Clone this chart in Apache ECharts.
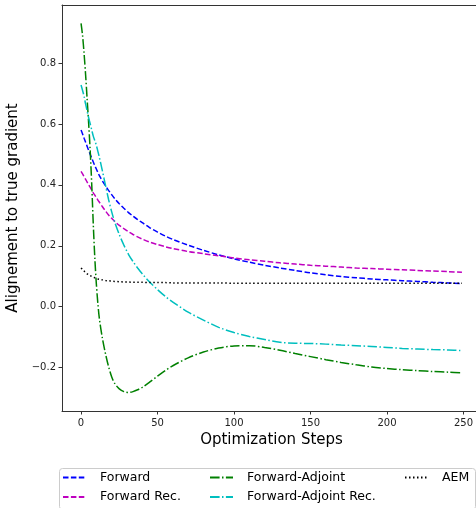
<!DOCTYPE html>
<html>
<head>
<meta charset="utf-8">
<script src="https://cdn.jsdelivr.net/npm/echarts@6/dist/echarts.min.js"></script>
<style>html,body{margin:0;padding:0;background:#fff;}#c{width:476px;height:508px;}</style>
</head>
<body>
<div id="c"></div>
<script>
var steps = [0,1,2,3,4,5,6,7,8,9,10,11,12,14,16,18,20,22,25,28,31,34,37,40,45,50,55,60,70,80,90,100,110,120,130,140,150,160,170,180,190,200,210,220,230,240,249];
var forward = [0.580,0.567,0.553,0.540,0.526,0.513,0.500,0.488,0.475,0.463,0.452,0.441,0.430,0.412,0.397,0.382,0.368,0.355,0.338,0.323,0.309,0.297,0.286,0.276,0.259,0.245,0.232,0.221,0.202,0.185,0.170,0.157,0.146,0.136,0.127,0.119,0.111,0.105,0.099,0.095,0.091,0.088,0.085,0.083,0.080,0.078,0.076];
var forwardRec = [0.444,0.436,0.427,0.418,0.409,0.400,0.392,0.383,0.374,0.366,0.358,0.350,0.343,0.328,0.314,0.301,0.290,0.280,0.267,0.256,0.246,0.237,0.229,0.222,0.212,0.204,0.197,0.191,0.181,0.174,0.167,0.160,0.154,0.149,0.144,0.140,0.136,0.133,0.130,0.127,0.125,0.123,0.121,0.119,0.117,0.115,0.113];
var forwardAdjoint = [0.930,0.890,0.830,0.760,0.680,0.600,0.510,0.400,0.270,0.160,0.075,0.010,-0.040,-0.105,-0.155,-0.197,-0.230,-0.252,-0.270,-0.279,-0.282,-0.279,-0.273,-0.265,-0.247,-0.228,-0.210,-0.194,-0.168,-0.149,-0.136,-0.129,-0.128,-0.134,-0.143,-0.154,-0.164,-0.174,-0.183,-0.191,-0.198,-0.203,-0.207,-0.210,-0.213,-0.215,-0.217];
var forwardAdjointRec = [0.728,0.710,0.690,0.665,0.642,0.620,0.600,0.580,0.560,0.545,0.530,0.510,0.490,0.445,0.398,0.352,0.312,0.278,0.237,0.202,0.172,0.148,0.127,0.108,0.080,0.056,0.034,0.015,-0.018,-0.044,-0.068,-0.085,-0.098,-0.108,-0.117,-0.120,-0.121,-0.123,-0.126,-0.128,-0.131,-0.134,-0.137,-0.139,-0.141,-0.142,-0.144];
var aem = [0.127,0.122,0.117,0.112,0.108,0.105,0.102,0.099,0.097,0.095,0.093,0.091,0.090,0.088,0.086,0.085,0.084,0.083,0.082,0.081,0.081,0.080,0.080,0.080,0.079,0.079,0.079,0.078,0.078,0.078,0.078,0.077,0.077,0.077,0.077,0.077,0.077,0.077,0.077,0.077,0.077,0.077,0.077,0.077,0.077,0.077,0.077];
var xTicks = [0,50,100,150,200,250];
var yTicks = [-0.2,0,0.2,0.4,0.6,0.8];
var seriesNames = ['Forward','Forward Rec.','Forward-Adjoint','Forward-Adjoint Rec.','AEM'];

function pairs(vals){ return steps.map(function(s,i){ return [s, vals[i]]; }); }

var FONT = 'DejaVu Sans';
var SPINE = '#333';
var styles = [
  {color:'#0000ff', type:[5.5,2.4]},
  {color:'#bf00bf', type:[5.5,2.4]},
  {color:'#008000', type:[9.6,2.4,1.5,2.4]},
  {color:'#00bfbf', type:[9.6,2.4,1.5,2.4]},
  {color:'#000000', type:[1.5,2.5]}
];
var allVals = [forward, forwardRec, forwardAdjoint, forwardAdjointRec, aem];

var series = seriesNames.map(function(n,i){
  return {
    name:n, type:'line', data:pairs(allVals[i]), symbol:'none', smooth:0.3,
    lineStyle:{color:styles[i].color, width:1.5, type:styles[i].type, cap:'butt'},
    itemStyle:{color:styles[i].color},
    animation:false, z: 2+i
  };
});

function legendCfg(names, left){
  return {
    data:names, orient:'vertical', left:left, top:471, height:40, padding:0,
    itemWidth:23, itemHeight:12, itemGap:6.4,
    textStyle:{fontFamily:FONT, fontSize:12.5, color:'#000', padding:[0,0,0,9]},
    itemStyle:{opacity:0},
    selectedMode:false
  };
}

var chart = echarts.init(document.getElementById('c'), null, {renderer:'canvas'});
chart.setOption({
  animation:false,
  backgroundColor:'#fff',
  grid:{left:62, top:5, width:419, height:406, show:false, containLabel:false, outerBoundsMode:'none'},
  xAxis:[{
    type:'value', min:-12.45, max:261.45, position:'bottom',
    name:'Optimization Steps', nameLocation:'middle', nameGap:22,
    nameTextStyle:{fontFamily:FONT, fontSize:15, color:'#000'},
    axisLine:{show:true, onZero:false, lineStyle:{color:SPINE, width:1}},
    axisTick:{show:true, length:3.5, inside:false, customValues:xTicks, lineStyle:{color:SPINE}},
    axisLabel:{customValues:xTicks, fontFamily:FONT, fontSize:10, color:'#222', margin:7},
    splitLine:{show:false}
  },{
    type:'value', min:-12.45, max:261.45, position:'top',
    axisLine:{show:true, onZero:false, lineStyle:{color:SPINE, width:1}},
    axisTick:{show:false}, axisLabel:{show:false}, splitLine:{show:false}
  }],
  yAxis:{
    type:'value', min:-0.3426, max:0.9906, position:'left',
    name:'Alignement to true gradient', nameLocation:'middle', nameGap:33, nameRotate:90,
    nameTextStyle:{fontFamily:FONT, fontSize:15, color:'#000'},
    axisLine:{show:true, onZero:false, lineStyle:{color:SPINE, width:1}},
    axisTick:{show:true, length:3.5, inside:false, customValues:yTicks, lineStyle:{color:SPINE}},
    axisLabel:{customValues:yTicks, fontFamily:FONT, fontSize:10, color:'#222', margin:6,
      formatter:function(v){ return (v<0?'\u2212':'') + Math.abs(v).toFixed(1); }},
    splitLine:{show:false}
  },
  legend:[
    legendCfg(['Forward','Forward Rec.'], 62),
    legendCfg(['Forward-Adjoint','Forward-Adjoint Rec.'], 209),
    legendCfg(['AEM'], 404)
  ],
  graphic:[{type:'rect', left:57, top:466, shape:{width:416, height:41, r:3}, style:{fill:'none', stroke:'#cccccc', lineWidth:1}, z:0, silent:true}],
  series:series
});
</script>
</body>
</html>
